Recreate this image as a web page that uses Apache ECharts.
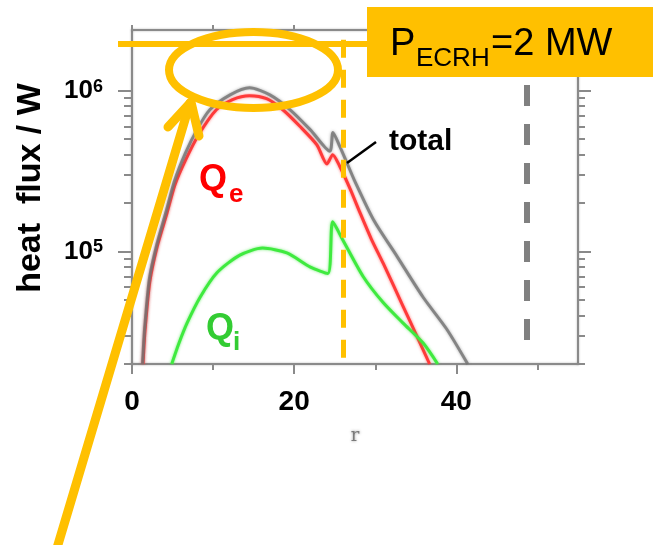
<!DOCTYPE html>
<html>
<head>
<meta charset="utf-8">
<script src="https://cdn.jsdelivr.net/npm/echarts@6/dist/echarts.min.js"></script>
<style>
  html, body { margin: 0; padding: 0; background: #ffffff; }
  #chart { width: 653px; height: 545px; }
</style>
</head>
<body>
<div id="chart"></div>
<script>
const FONT = 'Arial, "Liberation Sans", sans-serif';

// Radial profiles of heat flux (W) versus r
const rTotal = [1.3, 1.55, 2.15, 3.05, 4.25, 5.25, 6.6, 8.0, 9.6, 12.1, 14.5, 17.0, 19.5, 22.0, 24.4, 24.78, 25.65, 26.5, 27.4, 29.8, 32.7, 35.9, 38.8, 41.4];
const qTotal = [2.0e4, 3.3e4, 6.8e4, 1.1e5, 1.8e5, 2.75e5, 4.1e5, 5.7e5, 7.6e5, 9.4e5, 1.04e6, 9.4e5, 7.6e5, 5.7e5, 4.2e5, 5.5e5, 4.47e5, 3.56e5, 2.79e5, 1.57e5, 9.3e4, 5.2e4, 3.3e4, 2.0e4];

const rQe = [1.36, 1.6, 2.2, 3.1, 4.3, 5.3, 6.6, 8.2, 10.4, 12.4, 14.5, 16.6, 18.6, 20.7, 22.8, 24.05, 24.75, 25.6, 26.9, 28.1, 29.5, 31.0, 33.4, 35.1, 36.7];
const qE = [2.0e4, 3.2e4, 6.5e4, 1.07e5, 1.72e5, 2.6e5, 3.7e5, 5.3e5, 7.6e5, 8.8e5, 9.3e5, 8.9e5, 7.6e5, 6.0e5, 4.6e5, 3.5e5, 4.0e5, 3.4e5, 2.45e5, 1.75e5, 1.2e5, 8.4e4, 4.6e4, 3.0e4, 2.0e4];

const rQi = [4.9, 5.8, 6.8, 8.4, 10.5, 13.3, 16.1, 19.1, 22.0, 24.15, 24.75, 26.0, 28.5, 31.0, 33.4, 35.9, 37.7];
const qI = [2.0e4, 2.7e4, 3.6e4, 5.2e4, 7.4e4, 9.5e4, 1.05e5, 9.8e4, 8.0e4, 7.3e4, 1.53e5, 1.18e5, 7.0e4, 4.8e4, 3.6e4, 2.7e4, 2.0e4];

// Axes
const xRange = [0, 55];
const yRange = [2e4, 2.38e6];
const xLabelValues = [0, 20, 40];
const xMajorTicks = [0, 20, 40];
const xMinorTicks = [10, 30, 50];
const yMajorTicks = [1e5, 1e6];
const yMinorTicks = [2e4, 3e4, 4e4, 5e4, 6e4, 7e4, 8e4, 9e4, 2e5, 3e5, 4e5, 5e5, 6e5, 7e5, 8e5, 9e5];

// Vertical reference lines: ECRH deposition radius and outer boundary
const rEcrh = 26.0;
const ecrhSpan = [2.19e4, 2.09e6];
const rEdge = 48.7;
const edgeSpan = [2.82e4, 2.1e6];

const frameColor = '#8a8a8a';
const gold = '#FFC000';

function pairs(xs, ys) { return xs.map((x, i) => [x, ys[i]]); }

const frameLine = { show: true, onZero: false, lineStyle: { color: frameColor, width: 2, shadowColor: 'rgba(120,120,120,0.6)', shadowBlur: 2 } };
const noLine = { show: false, onZero: false };

function xAxisBase(extra) {
  return Object.assign({
    type: 'value', min: xRange[0], max: xRange[1], interval: 10,
    axisLine: frameLine,
    axisTick: { show: false },
    axisLabel: { show: false },
    splitLine: { show: false }
  }, extra);
}
function yAxisBase(extra) {
  return Object.assign({
    type: 'log', logBase: 10, min: yRange[0], max: yRange[1],
    axisLine: frameLine,
    axisTick: { show: false },
    axisLabel: { show: false },
    splitLine: { show: false },
    minorTick: { show: false },
    minorSplitLine: { show: false }
  }, extra);
}

const chart = echarts.init(document.getElementById('chart'), null, { renderer: 'canvas' });

const option = {
  animation: false,
  backgroundColor: '#ffffff',
  grid: { left: 132, top: 30, right: 75, bottom: 181, containLabel: false },
  xAxis: [
    xAxisBase({
      position: 'bottom',
      name: 'r', nameLocation: 'middle', nameGap: 63,
      nameTextStyle: { fontFamily: 'DejaVu Serif', fontSize: 18, color: '#7a7a7a', textShadowColor: '#999', textShadowBlur: 3 },
      axisTick: { show: true, inside: false, length: 10, customValues: xMajorTicks, lineStyle: { color: frameColor, width: 2 } },
      axisLabel: { show: true, customValues: xLabelValues, margin: 24, fontFamily: FONT, fontSize: 28, fontWeight: 'bold', color: '#000' }
    }),
    xAxisBase({
      position: 'bottom',
      axisLine: noLine,
      axisTick: { show: true, length: 6, customValues: xMinorTicks, lineStyle: { color: frameColor, width: 2 } }
    }),
    xAxisBase({
      position: 'top',
      axisTick: { show: true, length: 5, customValues: xMajorTicks.concat(xMinorTicks), lineStyle: { color: frameColor, width: 2 } }
    })
  ],
  yAxis: [
    yAxisBase({
      position: 'left',
      axisTick: { show: true, length: 14, customValues: yMajorTicks, lineStyle: { color: frameColor, width: 2 } },
      axisLabel: {
        show: true, customValues: yMajorTicks, margin: 29,
        formatter: v => '{b|10}{s|' + Math.round(Math.log10(v)) + '}',
        rich: {
          b: { fontFamily: FONT, fontSize: 26, fontWeight: 'bold', color: '#000' },
          s: { fontFamily: FONT, fontSize: 18, fontWeight: 'bold', color: '#000', verticalAlign: 'top', lineHeight: 12 }
        }
      }
    }),
    yAxisBase({
      position: 'right',
      axisTick: { show: true, length: 13, customValues: yMajorTicks, lineStyle: { color: frameColor, width: 2 } }
    }),
    yAxisBase({
      position: 'left',
      axisLine: noLine,
      axisTick: { show: true, length: 8, customValues: yMinorTicks, lineStyle: { color: frameColor, width: 2 } }
    }),
    yAxisBase({
      position: 'right',
      axisLine: noLine,
      axisTick: { show: true, length: 7, customValues: yMinorTicks, lineStyle: { color: frameColor, width: 2 } }
    })
  ],
  series: [
    {
      name: 'Qe', type: 'line', data: pairs(rQe, qE), smooth: 0.25, symbol: 'none', z: 3,
      lineStyle: { color: '#ff3a3a', width: 3, shadowColor: 'rgba(255,60,60,0.7)', shadowBlur: 3 }
    },
    {
      name: 'total', type: 'line', data: pairs(rTotal, qTotal), smooth: 0.25, symbol: 'none', z: 4,
      lineStyle: { color: '#737373', width: 3, opacity: 0.8, shadowColor: 'rgba(110,110,110,0.7)', shadowBlur: 3 }
    },
    {
      name: 'Qi', type: 'line', data: pairs(rQi, qI), smooth: 0.25, symbol: 'none', z: 3,
      lineStyle: { color: '#3fea3f', width: 3, shadowColor: 'rgba(60,230,60,0.7)', shadowBlur: 3 }
    },
    {
      name: 'refs', type: 'line', data: [], symbol: 'none', z: 6,
      markLine: {
        silent: true, symbol: 'none', label: { show: false },
        data: [
          [{ coord: [rEdge, edgeSpan[0]], lineStyle: { color: '#808080', width: 6, type: [21, 18] } },
           { coord: [rEdge, edgeSpan[1]] }],
          [{ coord: [rEcrh, ecrhSpan[0]], lineStyle: { color: gold, width: 5, type: [18, 12] } },
           { coord: [rEcrh, ecrhSpan[1]] }]
        ]
      }
    }
  ],
  graphic: [
    // axis title
    { type: 'text', x: 31, y: 188, rotation: Math.PI / 2, z: 50,
      style: { text: 'heat  flux / W', font: 'bold 34px ' + FONT, fill: '#000', align: 'center', verticalAlign: 'middle' } },
    // curve labels
    { type: 'text', x: 199, y: 180, z: 50, style: { text: 'Q', font: 'bold 36px ' + FONT, fill: '#ff0000', align: 'left', verticalAlign: 'middle' } },
    { type: 'text', x: 229, y: 195, z: 50, style: { text: 'e', font: 'bold 26px ' + FONT, fill: '#ff0000', align: 'left', verticalAlign: 'middle' } },
    { type: 'text', x: 206, y: 329, z: 50, style: { text: 'Q', font: 'bold 36px ' + FONT, fill: '#33cc33', align: 'left', verticalAlign: 'middle' } },
    { type: 'text', x: 233, y: 343, z: 50, style: { text: 'i', font: 'bold 26px ' + FONT, fill: '#33cc33', align: 'left', verticalAlign: 'middle' } },
    { type: 'text', x: 389, y: 142, z: 50, style: { text: 'total', font: 'bold 30px ' + FONT, fill: '#000', align: 'left', verticalAlign: 'middle' } },
    { type: 'line', z: 50, shape: { x1: 347, y1: 163, x2: 376, y2: 142 }, style: { stroke: '#000', lineWidth: 2.5 } },
    // highlight: horizontal line, ellipse and arrow
    { type: 'line', z: 60, shape: { x1: 118, y1: 44, x2: 368, y2: 44 }, style: { stroke: gold, lineWidth: 6 } },
    { type: 'ellipse', z: 60, shape: { cx: 253.5, cy: 70, rx: 84.5, ry: 38 }, style: { fill: null, stroke: gold, lineWidth: 8 } },
    { type: 'line', z: 60, shape: { x1: 57, y1: 548, x2: 190, y2: 103 }, style: { stroke: gold, lineWidth: 9, lineCap: 'round' } },
    { type: 'polyline', z: 60, shape: { points: [[168, 127], [191, 102], [199, 136]] }, style: { fill: null, stroke: gold, lineWidth: 9, lineCap: 'round', lineJoin: 'round' } },
    // heating power box
    { type: 'rect', z: 70, shape: { x: 367, y: 7, width: 290, height: 70 }, style: { fill: gold } },
    { type: 'text', x: 390, y: 45, z: 71, style: { text: 'P', font: '38px ' + FONT, fill: '#000', align: 'left', verticalAlign: 'middle' } },
    { type: 'text', x: 416, y: 59, z: 71, style: { text: 'ECRH', font: '26px ' + FONT, fill: '#000', align: 'left', verticalAlign: 'middle' } },
    { type: 'text', x: 491, y: 45, z: 71, style: { text: '=2 MW', font: '38px ' + FONT, fill: '#000', align: 'left', verticalAlign: 'middle' } }
  ]
};

chart.setOption(option);
</script>
</body>
</html>
